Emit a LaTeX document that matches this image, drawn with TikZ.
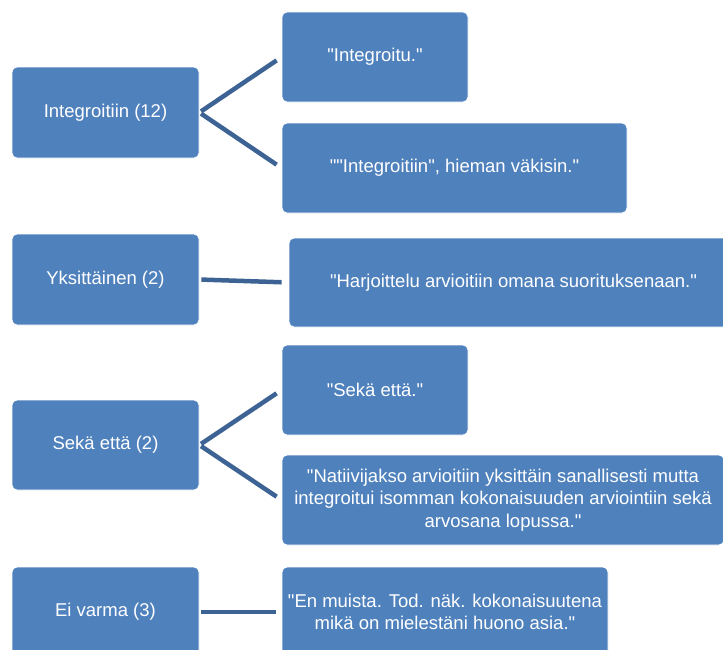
\documentclass[tikz,border=0pt]{standalone}
\usepackage{fontspec}
\newfontfamily\boxfont{Liberation Sans}
\definecolor{boxblue}{RGB}{79,129,189}
\definecolor{linkblue}{RGB}{61,99,148}
\tikzset{
	item/.style={draw=white, line width=0.8pt, fill=boxblue, rounded corners=5pt, text=white, align=center, inner sep=0pt, font=\boxfont\fontsize{18.5}{22.5}\selectfont},
	link/.style={draw=linkblue, line width=4.5pt, shorten <=2pt, shorten >=6pt}
}

\begin{document}
\begin{tikzpicture}[x=1pt, y=-1pt]
		\useasboundingbox(0, 0)rectangle(723, 649);
		% left column
		\node[item, minimum width=187pt, minimum height=91pt](int)at(105.5, 112.5){Integroitiin (12)};
		\node[item, minimum width=187pt, minimum height=91pt](yks)at(105.5, 279.5){Yksittäinen (2)};
		\node[item, minimum width=187pt, minimum height=90pt](sek)at(105.5, 445){Sekä että (2)};
		\node[item, minimum width=187pt, minimum height=90pt](ei)at(105.5, 612){Ei varma (3)};
		% right column
		\node[item, minimum width=186pt, minimum height=90pt](intA)at(375, 57){"Integroitu."};
		\node[item, minimum width=345pt, minimum height=90pt](intB)at(454.5, 168){""Integroitiin", hieman väkisin."};
		\node[item, minimum width=449pt, minimum height=89pt](yksA)at(513.5, 282.5){"Harjoittelu arvioitiin omana suorituksenaan."};
		\node[item, minimum width=186pt, minimum height=90pt](sekA)at(375, 390){"Sekä että."};
		\node[item, minimum width=442pt, minimum height=90pt](sekB)at(503, 500){"Natiivijakso arvioitiin yksittäin sanallisesti mutta\\integroitui isomman kokonaisuuden arviointiin sekä\\arvosana lopussa."};
		\node[item, minimum width=326pt, minimum height=90pt](eiA)at(445, 612){"En muista. Tod. näk. kokonaisuutena\\mikä on mielestäni huono asia."};
		% connectors
		\draw[link](int.east)--(intA.west);
		\draw[link](int.east)--(intB.west);
		\draw[link, shorten >=7pt](yks.east)--(yksA.west);
		\draw[link](sek.east)--(sekA.west);
		\draw[link](sek.east)--(sekB.west);
		\draw[link](ei.east)--(eiA.west);
	\end{tikzpicture}
\end{document}
